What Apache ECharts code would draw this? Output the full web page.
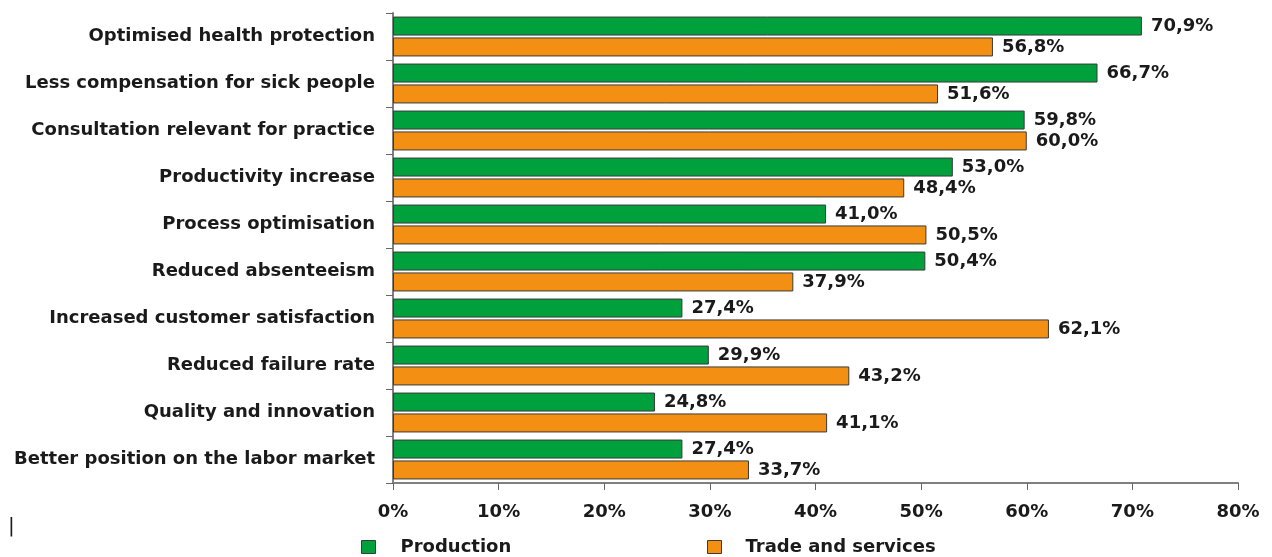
<!DOCTYPE html>
<html><head><meta charset="utf-8">
<script src="https://cdn.jsdelivr.net/npm/echarts@6/dist/echarts.min.js"></script>
<style>html,body{margin:0;padding:0;background:#fff}#c{width:1272px;height:557px}</style>
</head><body><div id="c"></div>
<script>
const categories = ["Optimised health protection","Less compensation for sick people","Consultation relevant for practice","Productivity increase","Process optimisation","Reduced absenteeism","Increased customer satisfaction","Reduced failure rate","Quality and innovation","Better position on the labor market"];
const production = [70.9,66.7,59.8,53.0,41.0,50.4,27.4,29.9,24.8,27.4];
const tradeServices = [56.8,51.6,60.0,48.4,50.5,37.9,62.1,43.2,41.1,33.7];
const xTicks = [0,10,20,30,40,50,60,70,80];

const FONT = 'DejaVu Sans';
const TXT = '#1a1a1a';
const fmt = v => v.toFixed(1).replace('.', ',') + '%';
const labelStyle = {show:true, position:'right', distance:9, color:TXT, fontFamily:FONT, fontWeight:'bold', fontSize:18, formatter:p=>fmt(p.value)};
const chart = echarts.init(document.getElementById('c'));
chart.setOption({
  animation:false,
  textStyle:{fontFamily:FONT},
  grid:{left:393, right:34, top:13, bottom:74, containLabel:false},
  xAxis:{type:'value', min:0, max:80, interval:10,
    axisLine:{show:true, lineStyle:{color:'#808080', width:2}},
    axisTick:{show:true, length:7, lineStyle:{color:'#666'}},
    splitLine:{show:false},
    axisLabel:{margin:20, color:TXT, fontWeight:'bold', fontSize:18, fontFamily:FONT, formatter:v=>xTicks.includes(v)?v+'%':''}},
  yAxis:{type:'category', data:categories, inverse:true,
    axisLine:{show:true, lineStyle:{color:'#808080', width:2}},
    axisTick:{show:true, length:7, lineStyle:{color:'#666'}},
    axisLabel:{margin:18, color:TXT, fontWeight:'bold', fontSize:18, fontFamily:FONT, padding:[4,0,0,0]}},
  legend:[
    {data:['Production'], left:356, top:533, padding:5, icon:'rect', itemWidth:14, itemHeight:13, itemStyle:{borderColor:'#3a3a3a', borderWidth:1},
     textStyle:{fontWeight:'bold', fontSize:18, lineHeight:18, color:TXT, fontFamily:FONT, padding:[0,0,0,20]}},
    {data:['Trade and services'], left:702, top:533, padding:5, icon:'rect', itemWidth:14, itemHeight:13, itemStyle:{borderColor:'#3a3a3a', borderWidth:1},
     textStyle:{fontWeight:'bold', fontSize:18, lineHeight:18, color:TXT, fontFamily:FONT, padding:[0,0,0,19]}}
  ],
  series:[
    {name:'Production', type:'bar', data:production, barWidth:19, barGap:'10%',
     itemStyle:{color:'#00a03c', borderColor:'#3a3a3a', borderWidth:1}, label:labelStyle},
    {name:'Trade and services', type:'bar', data:tradeServices, barWidth:19, barGap:'10%',
     itemStyle:{color:'#f39014', borderColor:'#3a3a3a', borderWidth:1}, label:labelStyle}
  ],
  graphic:[{type:'text', left:8, top:517, style:{text:'|', fontSize:20, fill:TXT, fontFamily:FONT}}]
});
</script></body></html>
